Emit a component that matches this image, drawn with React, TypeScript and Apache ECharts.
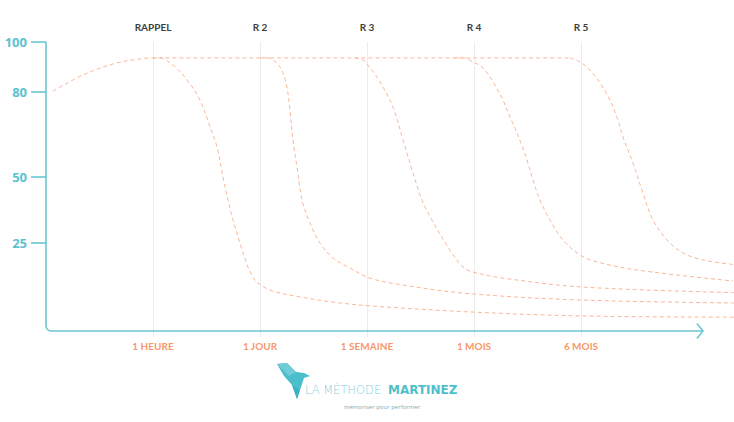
import React, { useEffect, useRef } from "react";
import * as echarts from "echarts";

// x positions: 1 unit = one review step
const xTickPositions = [1, 2, 3, 4, 5];
const xBottomLabels = ["1 HEURE", "1 JOUR", "1 SEMAINE", "1 MOIS", "6 MOIS"];
const xTopLabels = ["RAPPEL", "R 2", "R 3", "R 4", "R 5"];
const xAxisEnd = 6.14; // where the drawn x axis arrow ends
const xMax = 6.43; // right edge of the plot (curves run to it)

// y axis: stylised (non linear) scale, label -> position on axis
const yTickLabels = ["100", "80", "50", "25"];
const yTickPositions = [100, 82.7, 53.3, 30.4];

// learning curve then plateau
const apprentissage: [number, number][] = [
  [0.065, 83.0], [0.346, 88.6], [0.626, 92.4], [0.813, 93.8], [1.0, 94.5],
  [1.2, 94.5], [3.0, 94.5], [4.7, 94.5], [4.897, 94.5],
];

const oubliRappel: [number, number][] = [
  [1.0, 94.5], [1.065, 94.5], [1.187, 92.0], [1.318, 86.9], [1.439, 79.9],
  [1.533, 70.6], [1.598, 63.7], [1.654, 53.3], [1.701, 45.3], [1.748, 38.4],
  [1.813, 30.4], [1.888, 22.1], [1.953, 17.6], [2.019, 15.6], [2.121, 13.8],
  [2.374, 11.8], [2.682, 10.0], [3.028, 8.7], [3.963, 6.6], [5.019, 5.2],
  [6.43, 4.8],
];

const oubliR2: [number, number][] = [
  [2.0, 94.5], [2.065, 94.5], [2.159, 92.7], [2.215, 89.3], [2.252, 84.4],
  [2.28, 76.5], [2.308, 66.1], [2.346, 56.7], [2.393, 45.3], [2.467, 37.4],
  [2.561, 30.4], [2.682, 25.3], [2.841, 21.8], [3.028, 18.3], [3.336, 15.9],
  [3.963, 12.9], [5.019, 10.7], [6.43, 9.7],
];

const oubliR3: [number, number][] = [
  [2.888, 94.5], [2.963, 93.8], [3.009, 92.0], [3.093, 87.9], [3.15, 84.4],
  [3.243, 77.5], [3.336, 66.1], [3.43, 54.7], [3.514, 45.3], [3.607, 38.4],
  [3.776, 28.0], [3.897, 22.1], [3.991, 20.4], [4.271, 18.3], [5.019, 15.2],
  [6.43, 13.3],
];

const oubliR4: [number, number][] = [
  [3.82, 94.5], [3.897, 94.5], [3.991, 93.1], [4.084, 91.0], [4.178, 86.2],
  [4.271, 79.9], [4.336, 74.0], [4.402, 68.5], [4.495, 59.2], [4.551, 52.2],
  [4.617, 45.3], [4.71, 38.4], [4.832, 31.5], [4.991, 26.3], [5.15, 23.9],
  [5.523, 21.1], [6.421, 17.3],
];

const oubliR5: [number, number][] = [
  [4.897, 94.5], [4.991, 93.1], [5.084, 90.3], [5.178, 85.8], [5.271, 79.9],
  [5.336, 74.0], [5.393, 67.1], [5.486, 58.1], [5.579, 47.8], [5.673, 38.4],
  [5.804, 31.5], [5.953, 27.0], [6.14, 24.6], [6.43, 23.0],
];

const TEAL = "#6ac6d1";
const CURVE = "#f9b796";
const FONT = "'Open Sans', 'Noto Sans', sans-serif";
const LABEL_FONT = "Lato, 'Open Sans', sans-serif";

function nearestLabel(v: number, positions: number[], labels: string[]) {
  let best = -1;
  let d = Infinity;
  positions.forEach((p, i) => {
    if (Math.abs(p - v) < d) {
      d = Math.abs(p - v);
      best = i;
    }
  });
  return d < 0.01 ? labels[best] : "";
}

export default function App() {
  const ref = useRef<HTMLDivElement>(null);

  useEffect(() => {
    if (!ref.current) return;
    const chart = echarts.init(ref.current, undefined, { renderer: "svg" });

    const curveSeries = (name: string, data: [number, number][]) => ({
      name,
      type: "line" as const,
      data,
      smooth: 0.35,
      showSymbol: false,
      symbol: "none",
      lineStyle: { color: CURVE, width: 1, type: [4, 3] as any },
      z: 3,
    });

    const series: any[] = [
      {
        ...curveSeries("Apprentissage", apprentissage),
        markLine: {
          silent: true,
          symbol: ["none", "none"],
          label: { show: false },
          lineStyle: { color: "#ececec", type: "solid", width: 1 },
          data: xTickPositions.map((x) => ({ xAxis: x })),
          z: 1,
        },
      },
      curveSeries("Rappel", oubliRappel),
      curveSeries("R 2", oubliR2),
      curveSeries("R 3", oubliR3),
      curveSeries("R 4", oubliR4),
      curveSeries("R 5", oubliR5),
    ];

    chart.setOption({
      animation: false,
      grid: { left: 46, right: 0, top: 42, bottom: 91, containLabel: false },
      xAxis: [
        {
          type: "value",
          min: 0,
          max: xMax,
          position: "bottom",
          axisLine: { show: false },
          axisTick: {
            show: true,
            customValues: xTickPositions,
            length: 6,
            lineStyle: { color: "#ececec", width: 1 },
          },
          splitLine: { show: false },
          axisLabel: {
            customValues: xTickPositions,
            margin: 10,
            formatter: (v: number) => nearestLabel(v, xTickPositions, xBottomLabels),
            color: "#f7986c",
            fontFamily: LABEL_FONT,
            fontWeight: "bold",
            fontSize: 10,
          },
        },
        {
          type: "value",
          min: 0,
          max: xMax,
          position: "top",
          axisLine: { show: false },
          axisTick: { show: false },
          splitLine: { show: false },
          axisLabel: {
            customValues: xTickPositions,
            margin: 10,
            formatter: (v: number) => nearestLabel(v, xTickPositions, xTopLabels),
            color: "#3d3d3d",
            fontFamily: LABEL_FONT,
            fontWeight: "bold",
            fontSize: 10,
          },
        },
      ],
      yAxis: {
        type: "value",
        min: 0,
        max: 100,
        axisLine: { show: false },
        axisTick: {
          show: true,
          customValues: yTickPositions,
          length: 15,
          lineStyle: { color: TEAL, width: 1.6 },
        },
        splitLine: { show: false },
        axisLabel: {
          customValues: yTickPositions,
          margin: 19,
          formatter: (v: number) => nearestLabel(v, yTickPositions, yTickLabels),
          color: "#5bc3cf",
          fontFamily: FONT,
          fontWeight: "bold",
          fontSize: 13,
        },
      },
      series,
    });

    const origin = chart.convertToPixel({ gridIndex: 0 }, [0, 0]) as number[];
    const top = chart.convertToPixel({ gridIndex: 0 }, [0, 100]) as number[];
    const end = chart.convertToPixel({ gridIndex: 0 }, [xAxisEnd, 0]) as number[];
    const ox = origin[0];
    const oy = origin[1];
    const ex = end[0];
    const r = 5;

    chart.setOption({
      graphic: [
        {
          type: "line",
          shape: { x1: ox, y1: top[1], x2: ox, y2: oy - r },
          style: { stroke: TEAL, lineWidth: 1.6 },
          z: 10,
        },
        {
          type: "arc",
          shape: { cx: ox + r, cy: oy - r, r, startAngle: Math.PI / 2, endAngle: Math.PI },
          style: { stroke: TEAL, lineWidth: 1.6, fill: "none" },
          z: 10,
        },
        {
          type: "line",
          shape: { x1: ox + r, y1: oy, x2: ex, y2: oy },
          style: { stroke: TEAL, lineWidth: 1.6 },
          z: 10,
        },
        {
          type: "polyline",
          shape: { points: [[ex - 6, oy - 7.5], [ex, oy], [ex - 6, oy + 7.5]] },
          style: { stroke: TEAL, lineWidth: 1.6, fill: "none" },
          z: 10,
        },
        {
          type: "group",
          children: [
            {
              type: "polygon",
              shape: {
                points: [[277, 364], [287, 363], [296, 372], [304, 373], [310, 376], [304, 378], [300, 390], [297, 399], [292, 385], [284, 376]],
              },
              style: { fill: "#4cbecb" },
            },
            {
              type: "polygon",
              shape: { points: [[277, 364], [287, 363], [296, 372], [289, 376]] },
              style: { fill: "#6fcdd7" },
            },
            {
              type: "polygon",
              shape: { points: [[292, 385], [300, 390], [297, 399]] },
              style: { fill: "#3cb3c2" },
            },
            {
              type: "text",
              x: 305,
              y: 390,
              style: {
                text: "LA MÉTHODE",
                fill: "#82d0d9",
                font: `200 11.5px 'DejaVu Sans', sans-serif`,
                verticalAlign: "middle",
                align: "left",
              },
            },
            {
              type: "text",
              x: 388,
              y: 390,
              style: {
                text: "MARTINEZ",
                fill: "#4fbfcc",
                font: `bold 12px 'DejaVu Sans', sans-serif`,
                verticalAlign: "middle",
                align: "left",
              },
            },
            {
              type: "text",
              x: 382,
              y: 407,
              style: {
                text: "mémoriser pour performer",
                fill: "#7fa9b0",
                font: `normal 6px ${FONT}`,
                verticalAlign: "middle",
                align: "center",
              },
            },
          ],
        },
      ],
    });

    return () => chart.dispose();
  }, []);

  return (
    <div
      ref={ref}
      style={{ position: "fixed", left: 0, top: 0, width: 734, height: 422, background: "#fff" }}
    />
  );
}
